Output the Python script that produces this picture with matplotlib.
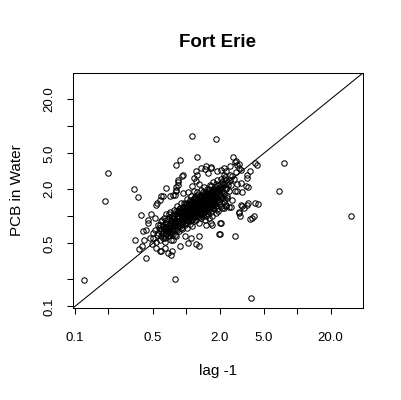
import numpy as np
import matplotlib
matplotlib.use("Agg")
import matplotlib.pyplot as plt
from matplotlib.ticker import FixedLocator, FixedFormatter, NullLocator

plt.rcParams["font.family"] = ["Liberation Sans", "DejaVu Sans"]

TITLE = "Fort Erie"
XLABEL = "lag -1"
YLABEL = "PCB in Water"

TICKS = [0.1, 0.2, 0.5, 1.0, 2.0, 5.0, 10.0, 20.0]
TICK_LABELS = ["0.1", "", "0.5", "", "2.0", "5.0", "", "20.0"]
LIMS = [0.096, 39.0]

# scattered points
outer_x = [0.12, 0.188, 0.2, 0.338, 0.37, 0.6, 0.77, 0.81, 0.66, 0.81, 0.925, 0.85,
           1.22, 1.23, 0.81, 0.89, 1.25, 1.14, 1.87, 0.39, 0.48, 0.54, 0.45, 0.41,
           0.345, 0.42, 0.40, 0.38, 0.49, 0.44, 0.58, 0.69, 0.73, 0.64, 0.8, 3.85,
           30.3, 7.64, 6.9, 2.63, 2.73, 2.97, 2.49, 3.1, 2.07, 1.66, 1.37, 2.3,
           4.35, 3.77, 3.5, 3.58, 3.2, 2.75, 4.4, 3.5, 3.3, 3.0, 3.05, 4.1,
           3.77, 2.54, 2.3, 2.03, 1.72, 2.02, 2.73, 1.32, 0.93, 0.84, 0.84, 0.81,
           0.79, 0.71, 0.62, 0.55, 0.58, 1.26, 1.19, 1.32, 1.14, 1.19, 1.03, 0.93,
           1.47, 1.56, 1.52, 1.67, 2.2, 2.8, 2.9, 3.55, 4.2, 2.2, 1.9, 2.6,
           3.1, 3.45, 2.9, 3.58, 4.2, 3.1, 2.35, 0.45, 0.44, 0.5, 0.47, 0.54,
           0.64, 0.6, 0.74, 0.88, 1.03, 1.23, 1.32, 1.11, 0.97, 0.76, 0.71, 0.64,
           0.56, 0.52, 2.2, 2.45, 3.0, 3.2, 3.9, 2.07, 1.67, 1.98, 1.52]
outer_y = [0.195, 1.47, 3.03, 2.03, 1.63, 1.66, 1.73, 1.89, 2.07, 2.1, 2.78, 2.41,
           2.44, 3.16, 3.69, 4.27, 4.57, 7.7, 7.3, 1.04, 1.06, 1.35, 0.85, 0.68,
           0.55, 0.55, 0.47, 0.43, 0.49, 0.345, 0.41, 0.39, 0.37, 0.6, 0.2, 0.123,
           1.0, 3.9, 1.9, 4.57, 4.02, 3.8, 3.58, 3.3, 3.3, 3.44, 3.44, 3.16,
           3.75, 3.16, 2.67, 2.1, 1.85, 1.89, 1.38, 1.35, 1.24, 1.1, 1.0, 1.02,
           0.94, 1.26, 1.29, 0.85, 0.81, 0.64, 0.6, 0.47, 2.9, 2.56, 2.25, 1.95,
           1.73, 1.67, 1.69, 1.42, 1.52, 2.9, 2.68, 2.3, 2.16, 1.9, 1.85, 1.83,
           3.35, 3.05, 3.58, 3.55, 3.4, 4.1, 3.75, 2.9, 3.9, 2.9, 3.16, 2.78,
           2.35, 2.16, 1.9, 1.4, 1.4, 1.35, 1.67, 0.92, 0.71, 0.65, 0.57, 0.45,
           0.45, 0.41, 0.41, 0.47, 0.5, 0.49, 0.6, 0.57, 0.6, 0.55, 0.68, 0.77,
           0.81, 0.95, 1.24, 1.26, 1.13, 1.29, 0.96, 0.85, 0.85, 0.64, 0.81]

# dense core of the cloud, estimated
core_x = [0.55, 0.57, 0.58, 0.6, 0.6, 0.62, 0.62, 0.63, 0.64, 0.65, 0.65, 0.66,
          0.66, 0.67, 0.68, 0.69, 0.7, 0.7, 0.71, 0.72, 0.72, 0.73, 0.74, 0.75,
          0.75, 0.76, 0.77, 0.78, 0.78, 0.79, 0.8, 0.8, 0.81, 0.82, 0.83, 0.83,
          0.84, 0.85, 0.86, 0.86, 0.87, 0.88, 0.89, 0.9, 0.9, 0.91, 0.92, 0.93,
          0.94, 0.95, 0.96, 0.97, 0.98, 0.99, 1.0, 1.0, 1.01, 1.02, 1.03, 1.04,
          1.05, 1.06, 1.07, 1.08, 1.09, 1.1, 1.1, 1.11, 1.12, 1.13, 1.14, 1.15,
          1.16, 1.17, 1.18, 1.19, 1.2, 1.21, 1.22, 1.23, 1.24, 1.25, 1.26, 1.27,
          1.28, 1.29, 1.3, 1.31, 1.32, 1.33, 1.34, 1.35, 1.36, 1.37, 1.38, 1.39,
          1.4, 1.41, 1.42, 1.43, 1.44, 1.45, 1.46, 1.47, 1.48, 1.49, 1.5, 1.52,
          1.53, 1.55, 1.56, 1.57, 1.58, 1.6, 1.61, 1.62, 1.64, 1.65, 1.66, 1.68,
          1.7, 1.71, 1.72, 1.74, 1.75, 1.77, 1.78, 1.8, 1.82, 1.84, 1.85, 1.87,
          1.88, 1.9, 1.92, 1.94, 1.95, 1.97, 2.0, 2.02, 2.05, 2.07, 2.1, 2.12,
          2.15, 2.18, 2.2, 2.25, 2.28, 2.3, 2.35, 2.4, 2.45, 2.5, 2.55, 2.6,
          2.7, 2.8, 2.9, 3.0,
          0.82, 0.85, 0.88, 0.9, 0.92, 0.94, 0.96, 0.97, 0.99, 1.0, 1.02, 1.03,
          1.05, 1.06, 1.08, 1.09, 1.1, 1.12, 1.13, 1.15, 1.16, 1.18, 1.19, 1.2,
          1.22, 1.23, 1.25, 1.26, 1.28, 1.29, 1.3, 1.32, 1.33, 1.35, 1.36, 1.38,
          1.39, 1.4, 1.42, 1.43, 1.45, 1.46, 1.48, 1.5, 1.51, 1.52, 1.54, 1.55,
          1.57, 1.58, 1.6, 1.62, 1.63, 1.65, 1.67, 1.68, 1.7, 1.72, 1.74, 1.75,
          1.78, 1.8, 1.83, 1.86, 1.88, 1.9, 1.93, 1.96, 2.0, 2.03, 2.06, 2.1,
          2.14, 2.2, 2.24, 2.3, 0.6, 0.62, 0.65, 0.67, 0.68, 0.7, 0.72, 0.73,
          0.75, 0.76, 0.78, 0.79, 0.8, 0.81, 0.84, 0.86, 0.87, 0.89, 0.9, 0.93,
          0.95, 0.96, 0.98, 1.01, 1.04, 1.07, 1.11, 1.14, 1.17, 1.21, 1.24, 1.27,
          1.31, 1.34, 1.37, 1.41, 1.44, 1.47, 1.49, 1.53, 1.56, 1.59, 1.63, 1.66,
          1.69, 1.73, 1.76, 1.79, 1.81]
core_y = [0.62, 0.75, 0.55, 0.68, 0.88, 0.58, 0.79, 0.95, 0.7, 0.52, 0.84, 0.63,
          1.05, 0.76, 0.9, 0.6, 0.71, 0.98, 0.82, 0.66, 1.12, 0.55, 0.88, 0.76,
          1.0, 0.64, 0.93, 0.8, 1.18, 0.7, 1.05, 0.87, 0.6, 0.96, 0.75, 1.3,
          1.12, 0.84, 0.68, 1.0, 1.2, 0.9, 0.78, 1.08, 1.42, 0.96, 0.72, 1.27,
          0.86, 1.15, 1.02, 0.8, 1.36, 0.92, 1.2, 1.06, 0.75, 1.55, 0.98, 1.3,
          0.88, 1.12, 1.44, 0.82, 1.02, 1.25, 1.7, 0.94, 1.36, 1.1, 0.78, 1.52,
          1.18, 0.99, 1.3, 0.88, 1.62, 1.08, 1.4, 1.22, 0.92, 1.85, 1.15, 1.5,
          1.02, 1.32, 0.85, 1.68, 1.2, 1.42, 1.05, 1.95, 1.28, 0.95, 1.55, 1.14,
          1.38, 1.78, 1.0, 1.25, 1.62, 1.1, 2.1, 1.45, 0.9, 1.32, 1.72, 1.18,
          1.5, 2.0, 1.05, 1.38, 1.82, 1.25, 1.6, 0.95, 2.25, 1.45, 1.12, 1.7,
          1.32, 1.95, 1.02, 1.55, 2.4, 1.2, 1.8, 1.42, 2.1, 1.1, 1.62, 1.3,
          2.5, 1.85, 1.5, 2.2, 1.15, 1.7, 1.38, 2.0, 2.6, 1.58, 1.25, 1.9,
          2.3, 1.45, 1.75, 2.75, 2.05, 1.35, 1.6, 2.4, 1.9, 2.9, 2.2, 1.5,
          2.6, 3.1, 2.3, 3.4,
          1.02, 1.15, 1.05, 0.85, 1.18, 1.0, 1.25, 1.1, 0.85, 1.35, 1.15, 1.22,
          1.0, 1.38, 1.2, 1.5, 0.9, 1.05, 1.28, 1.4, 0.98, 1.12, 1.6, 1.3,
          1.0, 1.48, 1.25, 1.72, 1.38, 1.1, 1.55, 0.98, 1.3, 1.15, 1.65, 1.22,
          1.45, 1.05, 1.85, 1.35, 1.55, 1.2, 1.68, 1.4, 1.02, 1.88, 1.3, 1.6,
          1.15, 1.48, 2.0, 1.35, 1.75, 1.2, 1.55, 2.15, 1.45, 1.8, 1.25, 1.65,
          1.95, 1.35, 1.55, 2.3, 1.7, 1.2, 2.0, 1.45, 1.75, 2.3, 1.3, 2.05,
          1.6, 2.2, 1.55, 2.5, 0.72, 0.65, 0.77, 0.68, 0.82, 0.62, 0.78, 0.92,
          0.7, 0.85, 0.95, 0.62, 0.78, 1.15, 0.88, 0.8, 0.95, 1.12, 0.75, 0.9,
          0.82, 1.4, 0.98, 1.08, 0.92, 1.02, 1.15, 1.22, 1.35, 1.18, 1.05, 1.22,
          1.3, 1.42, 1.1, 1.28, 1.4, 1.12, 1.58, 1.22, 1.4, 1.62, 1.28, 1.5,
          1.35, 1.6, 1.4, 1.55, 1.72]

# extra points where the cloud is solid black
fill_x = [0.95, 0.98, 1.0, 1.02, 1.05, 1.08, 1.1, 1.12, 1.14, 1.16, 1.18, 1.2,
          1.22, 1.24, 1.26, 1.28, 1.3, 1.32, 1.34, 1.36, 1.38, 1.4, 1.42, 1.44,
          1.46, 1.48, 1.5, 1.52, 1.55, 1.58, 1.6, 1.62, 1.65, 1.68, 1.7, 1.72,
          1.75, 1.78, 1.82, 1.85, 1.9, 1.95, 2.0, 2.05, 2.1, 2.15, 2.2, 2.3,
          2.4, 2.5, 0.5, 0.52, 0.54, 0.56, 0.58, 0.59, 0.61, 0.63, 0.64, 0.66,
          0.68, 0.7, 0.71, 0.73, 0.74, 0.77, 0.79, 0.82, 0.84, 0.87, 0.88, 0.91,
          0.93, 0.97, 0.99, 1.03, 1.06, 1.09, 1.13, 1.17]
fill_y = [1.12, 1.28, 0.95, 1.4, 1.18, 1.32, 1.05, 1.48, 1.3, 1.15, 1.45, 1.08,
          1.25, 1.58, 1.35, 1.18, 1.42, 1.62, 1.25, 1.5, 1.35, 1.7, 1.18, 1.5,
          1.32, 1.78, 1.25, 1.55, 1.45, 1.7, 1.38, 1.9, 1.6, 1.42, 1.85, 1.5,
          2.0, 1.7, 1.9, 1.45, 1.6, 1.9, 2.1, 1.7, 2.4, 1.85, 2.6, 2.0,
          2.2, 2.5, 0.58, 0.7, 0.52, 0.66, 0.8, 0.6, 0.9, 0.72, 0.58, 0.85,
          0.7, 1.05, 0.75, 0.65, 0.98, 0.72, 0.88, 0.7, 1.0, 0.88, 1.25, 0.82,
          1.05, 0.95, 1.15, 1.05, 0.95, 1.12, 0.92, 1.05]

x = np.array(outer_x + core_x + fill_x)
y = np.array(outer_y + core_y + fill_y)

fig = plt.figure(figsize=(4.01, 4.0), dpi=100)
ax = fig.add_axes([0.182, 0.23, 0.723, 0.5875])

ax.plot(x, y, linestyle="none", marker="o", markersize=3.9,
        markerfacecolor="none", markeredgecolor="black", markeredgewidth=0.75)
ax.axline((1.0, 1.0), (10.0, 10.0), color="black", linewidth=0.75)

ax.set_xscale("log")
ax.set_yscale("log")
ax.set_xlim(LIMS)
ax.set_ylim(LIMS)

for axis in (ax.xaxis, ax.yaxis):
    axis.set_major_locator(FixedLocator(TICKS))
    axis.set_major_formatter(FixedFormatter(TICK_LABELS))
    axis.set_minor_locator(NullLocator())

ax.tick_params(axis="both", direction="out", length=4.5, width=0.75,
               labelsize=9.5, colors="black")
ax.tick_params(axis="x", pad=13)
ax.tick_params(axis="y", pad=8, labelrotation=90)
for lab in ax.get_yticklabels():
    lab.set_verticalalignment("center")

for sp in ax.spines.values():
    sp.set_linewidth(0.75)

ax.set_title(TITLE, fontsize=13.5, fontweight="bold", pad=19)
ax.set_xlabel(XLABEL, fontsize=11)
ax.set_ylabel(YLABEL, fontsize=11)
ax.xaxis.set_label_coords(0.5, -0.24)
ax.yaxis.set_label_coords(-0.17, 0.5)

fig.savefig("out.png", dpi=100, facecolor="white")
